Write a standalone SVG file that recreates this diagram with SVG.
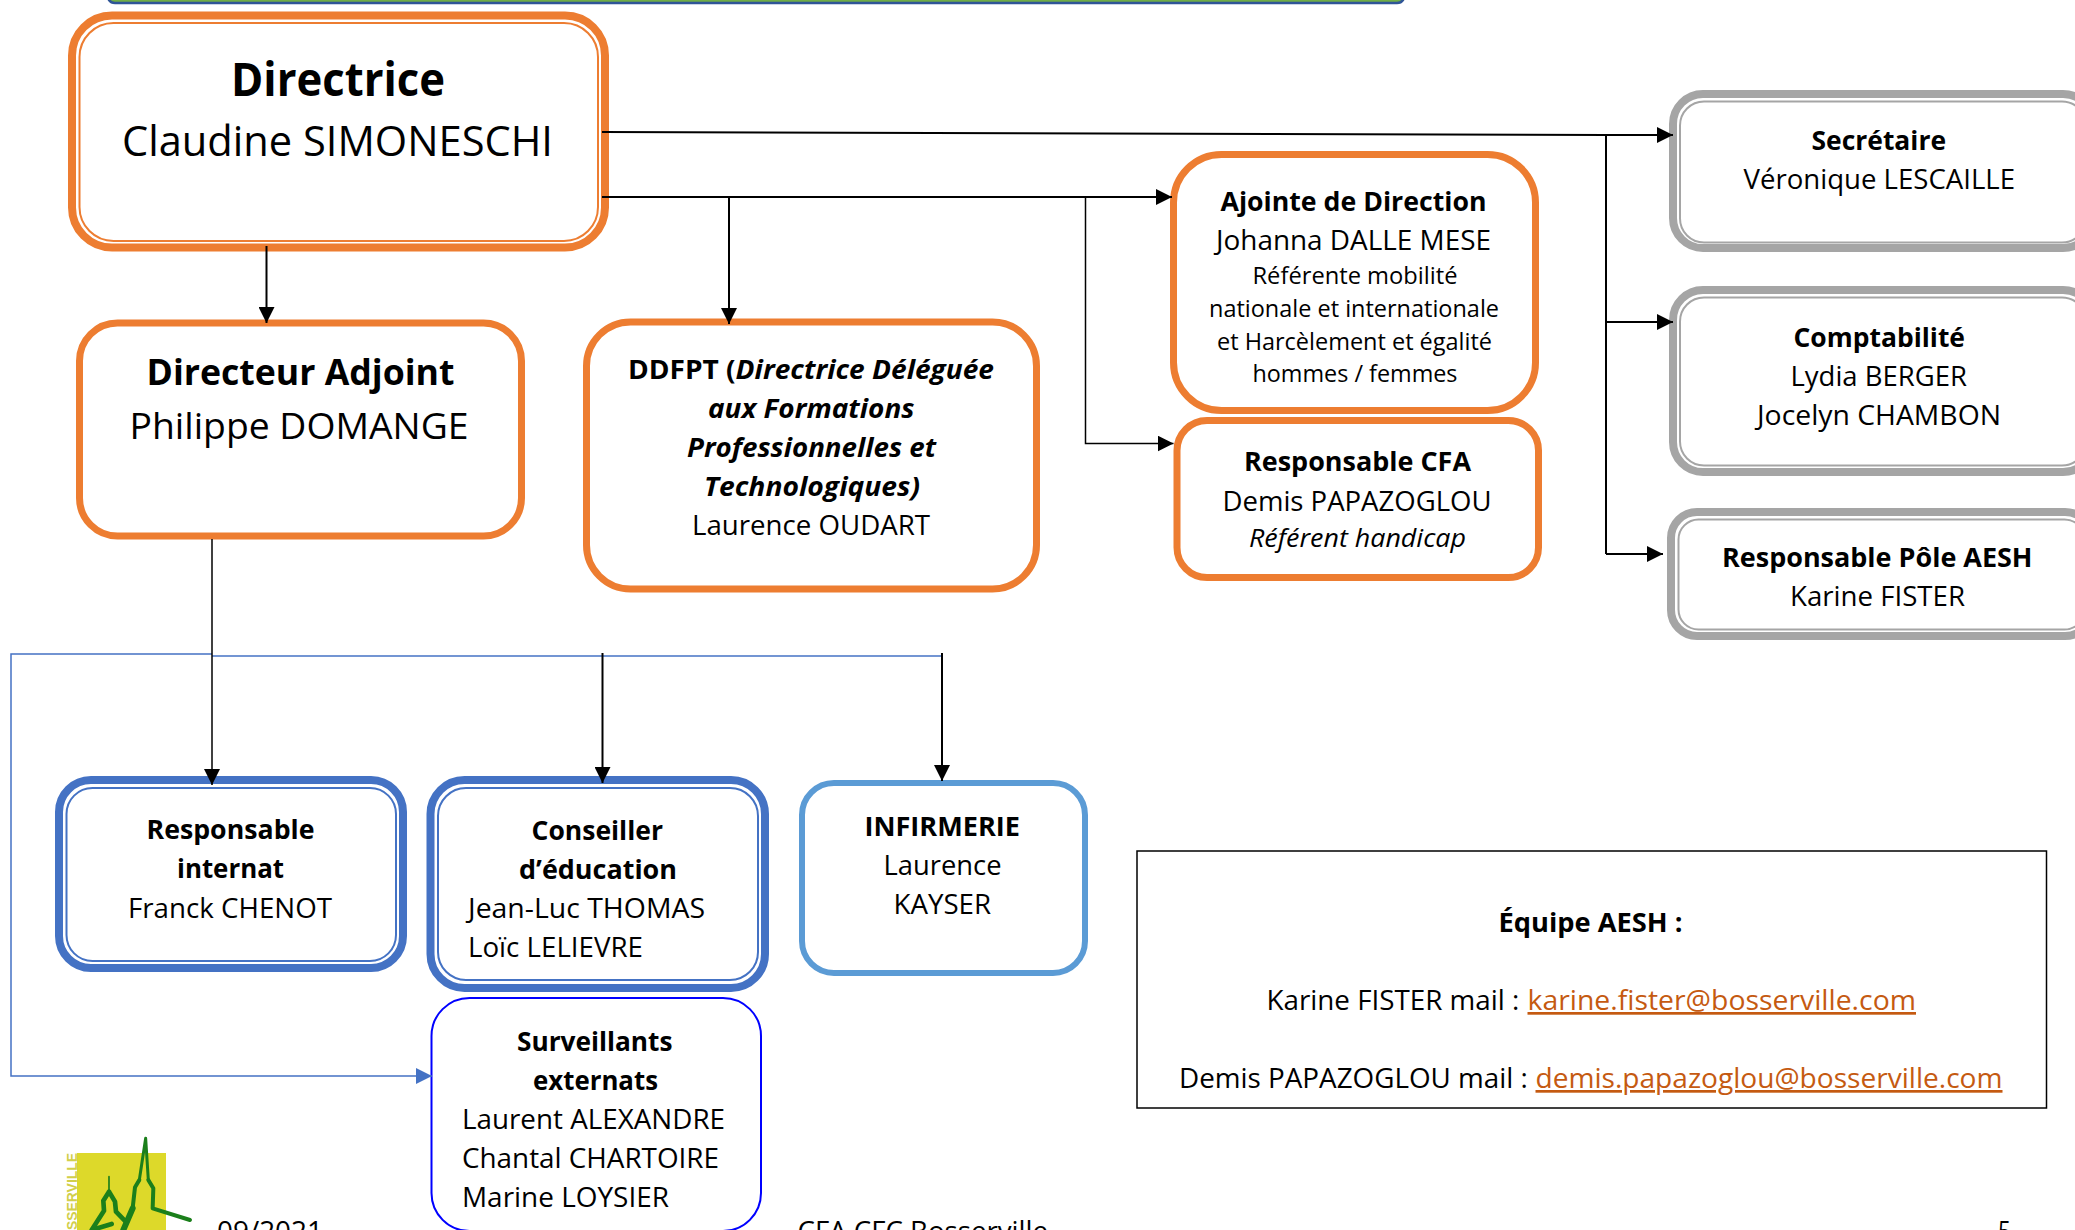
<svg xmlns="http://www.w3.org/2000/svg" width="2075" height="1230" viewBox="0 0 2075 1230">
<style>
text{font-family:"Open Sans","Liberation Sans",sans-serif;fill:#000;font-size:27px;font-variant-ligatures:none}
.b{font-weight:700}
.i{font-style:italic}
.or{fill:#fff;stroke:#ED7D31;stroke-width:7}
.ot{fill:#fff;stroke:#ED7D31;stroke-width:2}
.gr{fill:#fff;stroke:#A5A5A5;stroke-width:8}
.gi{fill:#fff;stroke:#A5A5A5;stroke-width:2}
.bl{fill:#fff;stroke:#4472C4;stroke-width:8}
.bi{fill:#fff;stroke:#4472C4;stroke-width:2}
.k{fill:none;stroke:#000;stroke-width:2}
.kt{fill:none;stroke:#000;stroke-width:1.5}
.ka{marker-end:url(#ah)}
.u{fill:none;stroke:#4472C4;stroke-width:1.5}
.lk{fill:#C55A11;text-decoration:underline}
.lg{fill:none;stroke:#1B7F1B;stroke-linecap:round;stroke-linejoin:round}
</style>
<defs>
<marker id="ah" markerUnits="userSpaceOnUse" markerWidth="16" markerHeight="16" refX="16" refY="8" orient="auto"><path d="M0 0L16 8L0 16Z" fill="#000"/></marker>
<marker id="ab" markerUnits="userSpaceOnUse" markerWidth="16" markerHeight="16" refX="16" refY="8" orient="auto"><path d="M0 0L16 8L0 16Z" fill="#4472C4"/></marker>
</defs>
<rect width="2075" height="1230" fill="#fff"/>
<g id="top-bar"><path d="M109 -4V0Q111 3 115 3H1397Q1401 3 1403 0V-4" fill="#70AD47" stroke="#2F5597" stroke-width="2.5"/></g>

<g id="directrice">
<rect class="or" style="stroke-width:8" x="72" y="15.500" width="533" height="232" rx="40"/>
<rect class="ot" x="79.500" y="23" width="518.500" height="218" rx="34"/>
<text class="b" style="font-size:47px" x="231" y="96" textLength="214" lengthAdjust="spacingAndGlyphs">Directrice</text>
<text style="font-size:42px" x="122" y="156" textLength="431" lengthAdjust="spacingAndGlyphs">Claudine SIMONESCHI</text>
</g>
<g id="directeur-adjoint">
<rect class="or" x="79.500" y="323" width="442" height="213" rx="38"/>
<text class="b" style="font-size:36px" x="146.500" y="385" textLength="308" lengthAdjust="spacingAndGlyphs">Directeur Adjoint</text>
<text style="font-size:36px" x="129.500" y="438.500" textLength="339" lengthAdjust="spacingAndGlyphs">Philippe DOMANGE</text>
</g>
<g id="ddfpt">
<rect class="or" x="586.500" y="322" width="450" height="267" rx="44"/>
<text class="b" x="628" y="378.500" textLength="366" lengthAdjust="spacingAndGlyphs">DDFPT (<tspan class="i">Directrice Déléguée</tspan></text>
<text class="b i" x="708" y="418" textLength="206.500" lengthAdjust="spacingAndGlyphs">aux Formations</text>
<text class="b i" x="687" y="457" textLength="249" lengthAdjust="spacingAndGlyphs">Professionnelles et</text>
<text class="b i" x="704" y="496" textLength="216" lengthAdjust="spacingAndGlyphs">Technologiques)</text>
<text x="692" y="534.500" textLength="238" lengthAdjust="spacingAndGlyphs">Laurence OUDART</text>
</g>
<g id="ajointe">
<rect class="or" x="1173.500" y="154.500" width="362" height="256" rx="48"/>
<text class="b" x="1220.500" y="211" textLength="266" lengthAdjust="spacingAndGlyphs">Ajointe de Direction</text>
<text x="1216" y="250" textLength="275" lengthAdjust="spacingAndGlyphs">Johanna DALLE MESE</text>
<text style="font-size:24px" x="1252.500" y="284" textLength="205" lengthAdjust="spacingAndGlyphs">Référente mobilité</text>
<text style="font-size:24px" x="1209" y="316.500" textLength="290" lengthAdjust="spacingAndGlyphs">nationale et internationale</text>
<text style="font-size:24px" x="1217" y="349.500" textLength="275" lengthAdjust="spacingAndGlyphs">et Harcèlement et égalité</text>
<text style="font-size:24px" x="1252.500" y="382" textLength="205" lengthAdjust="spacingAndGlyphs">hommes / femmes</text>
</g>
<g id="responsable-cfa">
<rect class="or" x="1177" y="420.500" width="361.500" height="157" rx="30"/>
<text class="b" x="1244" y="471" textLength="227" lengthAdjust="spacingAndGlyphs">Responsable CFA</text>
<text x="1222.500" y="510.500" textLength="269" lengthAdjust="spacingAndGlyphs">Demis PAPAZOGLOU</text>
<text class="i" style="font-size:26px" x="1249" y="546.500" textLength="217" lengthAdjust="spacingAndGlyphs">Référent handicap</text>
</g>
<g id="secretaire">
<rect class="gr" x="1673" y="94" width="420" height="154" rx="30"/>
<rect class="gi" x="1680" y="101.500" width="406" height="141" rx="24"/>
<text class="b" x="1811.500" y="150" textLength="134.500" lengthAdjust="spacingAndGlyphs">Secrétaire</text>
<text x="1743.500" y="189" textLength="271.500" lengthAdjust="spacingAndGlyphs">Véronique LESCAILLE</text>
</g>
<g id="comptabilite">
<rect class="gr" x="1673" y="290" width="420" height="182" rx="30"/>
<rect class="gi" x="1680" y="297.500" width="406" height="168" rx="24"/>
<text class="b" x="1793.500" y="347" textLength="171.500" lengthAdjust="spacingAndGlyphs">Comptabilité</text>
<text x="1790.500" y="386" textLength="176.500" lengthAdjust="spacingAndGlyphs">Lydia BERGER</text>
<text x="1757" y="425" textLength="244" lengthAdjust="spacingAndGlyphs">Jocelyn CHAMBON</text>
</g>
<g id="responsable-aesh">
<rect class="gr" x="1671" y="512" width="420" height="124" rx="26"/>
<rect class="gi" x="1678.500" y="519.500" width="406" height="110" rx="20"/>
<text class="b" x="1722" y="567" textLength="310.500" lengthAdjust="spacingAndGlyphs">Responsable Pôle AESH</text>
<text x="1790" y="606" textLength="175" lengthAdjust="spacingAndGlyphs">Karine FISTER</text>
</g>
<g id="responsable-internat">
<rect class="bl" x="59" y="780" width="344" height="188" rx="32"/>
<rect class="bi" x="66.500" y="788" width="329.500" height="173" rx="26"/>
<text class="b" x="146.500" y="839" textLength="168" lengthAdjust="spacingAndGlyphs">Responsable</text>
<text class="b" x="177" y="878" textLength="107" lengthAdjust="spacingAndGlyphs">internat</text>
<text x="128" y="917.500" textLength="204" lengthAdjust="spacingAndGlyphs">Franck CHENOT</text>
</g>
<g id="conseiller">
<rect class="bl" x="430.500" y="780" width="334.500" height="208" rx="34"/>
<rect class="bi" x="438" y="788" width="320" height="192" rx="28"/>
<text class="b" x="531.500" y="839.500" textLength="131.500" lengthAdjust="spacingAndGlyphs">Conseiller</text>
<text class="b" x="519" y="878.500" textLength="158" lengthAdjust="spacingAndGlyphs">d’éducation</text>
<text x="468" y="917.500" textLength="237" lengthAdjust="spacingAndGlyphs">Jean-Luc THOMAS</text>
<text x="468" y="957" textLength="175" lengthAdjust="spacingAndGlyphs">Loïc LELIEVRE</text>
</g>
<g id="surveillants">
<rect x="431.500" y="998" width="329.500" height="233" rx="38" fill="#fff" stroke="#0000FF" stroke-width="2"/>
<text class="b" x="517" y="1051" textLength="155.500" lengthAdjust="spacingAndGlyphs">Surveillants</text>
<text class="b" x="533" y="1090" textLength="125" lengthAdjust="spacingAndGlyphs">externats</text>
<text x="462" y="1129" textLength="263" lengthAdjust="spacingAndGlyphs">Laurent ALEXANDRE</text>
<text x="462" y="1168" textLength="257" lengthAdjust="spacingAndGlyphs">Chantal CHARTOIRE</text>
<text x="462" y="1207" textLength="207" lengthAdjust="spacingAndGlyphs">Marine LOYSIER</text>
</g>
<g id="infirmerie">
<rect x="802" y="783" width="283" height="190" rx="32" fill="#fff" stroke="#5B9BD5" stroke-width="6"/>
<text class="b" x="864.500" y="836" textLength="155.500" lengthAdjust="spacingAndGlyphs">INFIRMERIE</text>
<text x="883.500" y="875" textLength="118" lengthAdjust="spacingAndGlyphs">Laurence</text>
<text x="893.500" y="914" textLength="97.500" lengthAdjust="spacingAndGlyphs">KAYSER</text>
</g>
<g id="equipe-aesh">
<rect x="1137" y="851" width="909.500" height="257" fill="#fff" stroke="#000" stroke-width="1.500"/>
<text class="b" x="1498.500" y="931.500" textLength="184" lengthAdjust="spacingAndGlyphs">Équipe AESH :</text>
<text><tspan x="1266.500" y="1010" textLength="260" lengthAdjust="spacingAndGlyphs">Karine FISTER mail : </tspan><tspan class="lk" x="1527.500" y="1010" textLength="388.500" lengthAdjust="spacingAndGlyphs">karine.fister@bosserville.com</tspan></text>
<text><tspan x="1179" y="1088" textLength="356" lengthAdjust="spacingAndGlyphs">Demis PAPAZOGLOU mail : </tspan><tspan class="lk" x="1535.500" y="1088" textLength="467" lengthAdjust="spacingAndGlyphs">demis.papazoglou@bosserville.com</tspan></text>
</g>

<g id="connectors">
<path class="k ka" d="M266.500 246V323"/>
<path class="k" d="M602 132L1606 135"/>
<path class="k ka" d="M1606 135H1673"/>
<path class="k" d="M1606 135V554"/>
<path class="k ka" d="M1606 322H1673"/>
<path class="k ka" d="M1606 554H1663"/>
<path class="k ka" d="M602 197H1172"/>
<path class="k ka" d="M729 197V324"/>
<path class="kt ka" d="M1085.500 197V443.500H1173.500"/>
<path class="u" d="M212 656H942"/>
<path class="u" d="M212 654H11V1076H432" style="marker-end:url(#ab)"/>
<path class="kt ka" d="M212 539V785"/>
<path class="k ka" d="M602.500 653V783"/>
<path class="k ka" d="M942 653V781"/>
</g>

<g id="logo">
<rect x="77" y="1153" width="89" height="77" fill="#DDD92A"/>
<text transform="translate(77 1230) rotate(-90)" x="0" y="0" textLength="77" lengthAdjust="spacingAndGlyphs" style="font-size:14px;fill:#D2CF4A;font-family:'Liberation Sans',sans-serif;font-weight:700">SSERVILLE</text>
<g class="lg" transform="translate(60 1130) scale(.3333)">
<path stroke-width="9" d="M257 25L238 150M257 25L265 150"/>
<path stroke-width="12" d="M238 150L225 172L218 235M265 150L280 175L278 235L390 270"/>
<path stroke-width="18" d="M218 235L190 300"/>
<path stroke-width="5" d="M147 140V185"/>
<path stroke-width="14" d="M147 185L130 212L132 242L95 300M147 185L165 215L168 245L200 278M105 297L155 282"/>
</g>
</g>
<g id="footer">
<text x="217" y="1241" textLength="106" lengthAdjust="spacingAndGlyphs">09/2021</text>
<text x="797.500" y="1241" textLength="250.500" lengthAdjust="spacingAndGlyphs">CFA CFC Bosserville</text>
<text x="1998" y="1241" textLength="13" lengthAdjust="spacingAndGlyphs">5</text>
</g>
</svg>
